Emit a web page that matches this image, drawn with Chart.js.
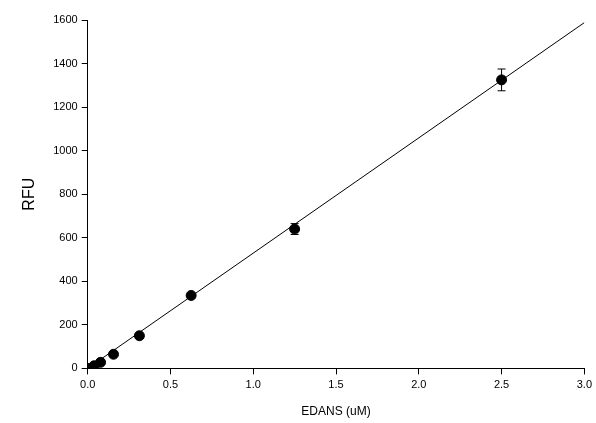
<!DOCTYPE html>
<html><head>
<script src="https://cdn.jsdelivr.net/npm/chart.js@4"></script>
<style>body{margin:0;background:#fff}#w{width:596px;height:423px}</style>
</head><body><div id="w"><canvas id="c"></canvas></div>
<script>
const conc = [0, 0.039, 0.078, 0.156, 0.3125, 0.625, 1.25, 2.5];
const rfu = [0, 12, 28, 65, 150, 335, 640, 1325];
const err = [2, 3, 4, 6, 8, 10, 25, 50];
const fitX = [0, 3.0];
const fitY = [0, 1588];

const errorBars = {
  id: 'errorBars',
  afterDatasetsDraw(chart) {
    const {ctx, scales: {x, y}} = chart;
    ctx.save();
    ctx.strokeStyle = '#000';
    ctx.lineWidth = 1;
    conc.forEach((c, i) => {
      if (err[i] < 15) return;
      const px = x.getPixelForValue(c);
      const top = y.getPixelForValue(rfu[i] + err[i]);
      const bot = y.getPixelForValue(rfu[i] - err[i]);
      ctx.beginPath();
      ctx.moveTo(px, top); ctx.lineTo(px, bot);
      ctx.moveTo(px - 4, top); ctx.lineTo(px + 4, top);
      ctx.moveTo(px - 4, bot); ctx.lineTo(px + 4, bot);
      ctx.stroke();
    });
    ctx.restore();
  }
};

Chart.defaults.font.family = '"Liberation Sans", Arial, sans-serif';
Chart.defaults.color = '#000';

new Chart(document.getElementById('c'), {
  type: 'scatter',
  data: {
    datasets: [
      {
        data: fitX.map((v, i) => ({x: v, y: fitY[i]})),
        showLine: true,
        borderColor: '#000',
        borderWidth: 1,
        pointRadius: 0
      },
      {
        data: conc.map((v, i) => ({x: v, y: rfu[i]})),
        backgroundColor: '#000',
        borderColor: '#000',
        pointRadius: 5
      }
    ]
  },
  options: {
    responsive: true,
    maintainAspectRatio: false,
    animation: false,
    layout: {padding: {top: 20, right: 8, left: 16, bottom: 0}},
    plugins: {legend: {display: false}, tooltip: {enabled: false}},
    scales: {
      x: {
        min: 0, max: 3,
        border: {color: '#000', width: 1},
        grid: {display: true, drawOnChartArea: false, drawTicks: true, tickColor: '#000', tickLength: 6},
        ticks: {stepSize: 0.5, callback: v => v.toFixed(1), font: {size: 11}, padding: 4},
        title: {display: true, text: 'EDANS (uM)', font: {size: 12}, padding: {top: 9}}
      },
      y: {
        min: 0, max: 1600,
        border: {color: '#000', width: 1},
        grid: {display: true, drawOnChartArea: false, drawTicks: true, tickColor: '#000', tickLength: 6},
        ticks: {stepSize: 200, callback: v => String(v), font: {size: 11}, padding: 4},
        title: {display: true, text: 'RFU', font: {size: 16}, padding: {bottom: 10}}
      }
    }
  },
  plugins: [errorBars]
});
</script></body></html>
